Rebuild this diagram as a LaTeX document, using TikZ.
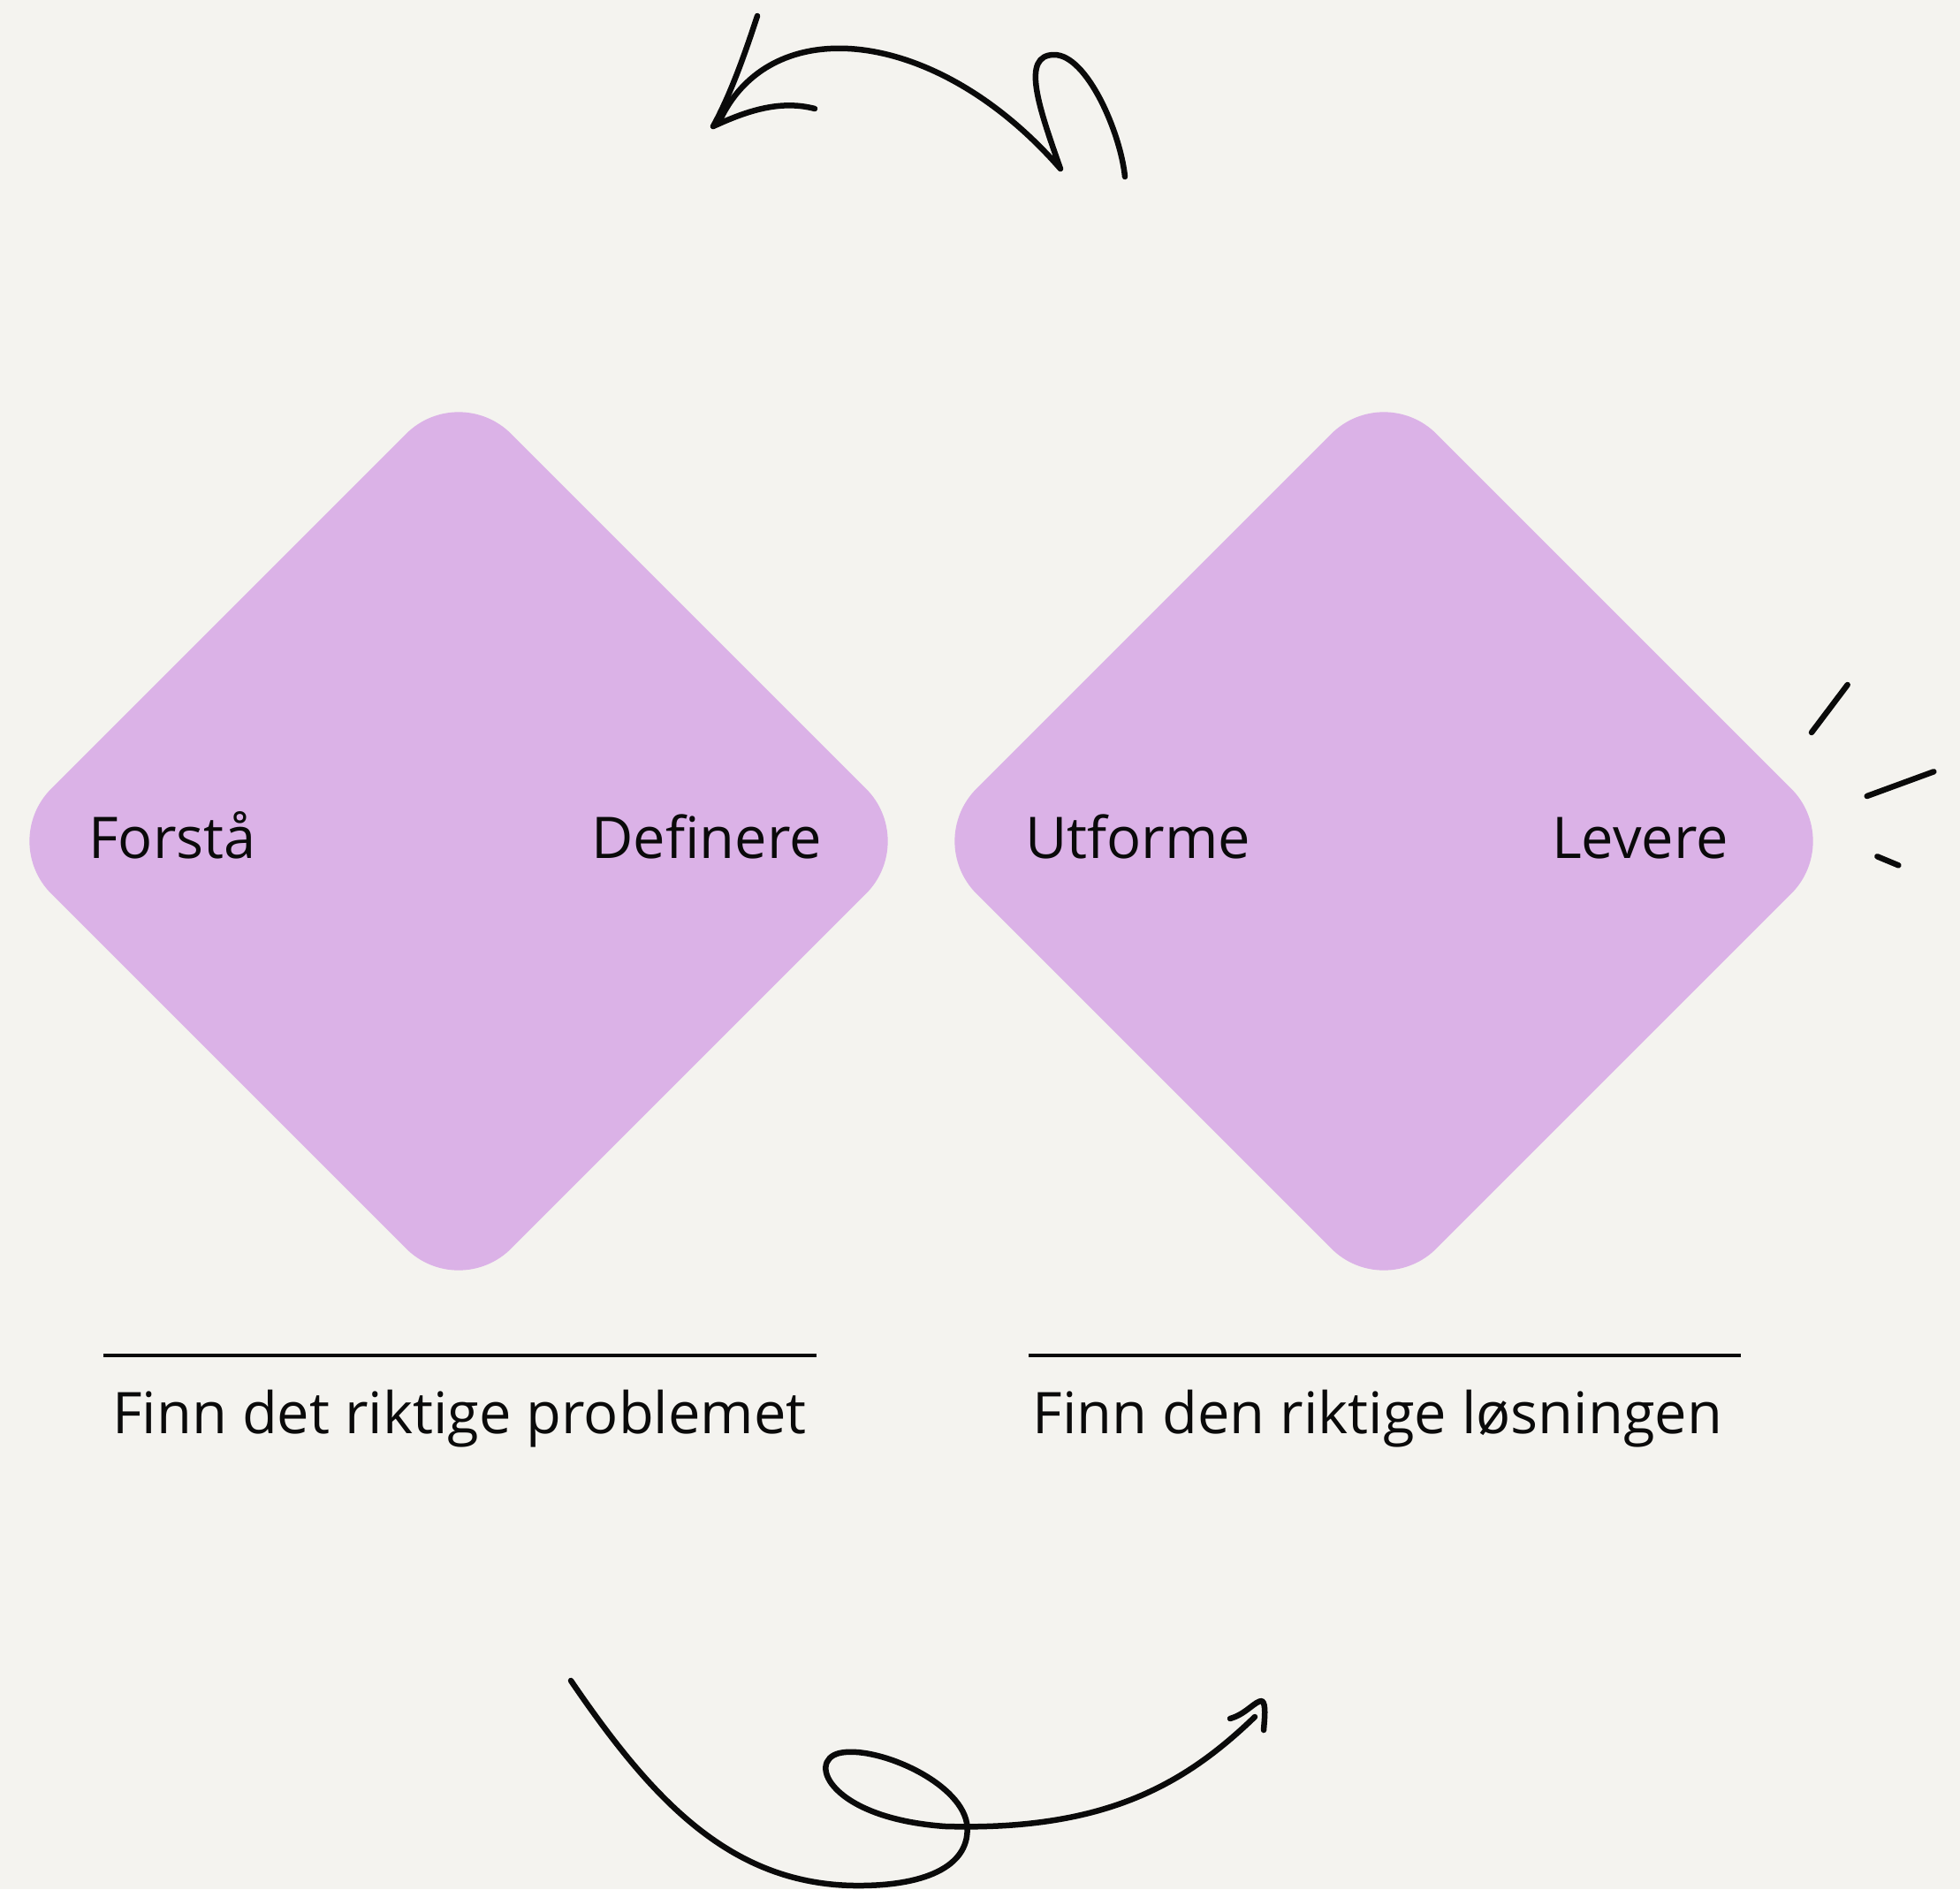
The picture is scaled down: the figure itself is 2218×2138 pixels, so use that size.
\documentclass[tikz,border=0pt]{standalone}
\usepackage{fontspec}
\setmainfont{Open Sans}
\definecolor{paper}{HTML}{F4F3EF}
\definecolor{lilac}{HTML}{DBB2E7}
\definecolor{ink}{HTML}{0A0A0A}
\begin{document}
\begin{tikzpicture}[x=1pt,y=-1pt,
  diamondshape/.style={fill=lilac, rounded corners=84pt},
  label/.style={inner sep=0pt, font=\fontsize{65}{78}\selectfont, text=ink},
  stroke/.style={draw=ink, line width=6.5pt, line cap=round, line join=round},
  rule/.style={draw=ink, line width=3.6pt}]
% canvas
\fill[paper] (0,0) rectangle (2218,2138);
\useasboundingbox (0,0) rectangle (2218,2138);

% the two diamonds
\fill[diamondshape, rotate around={45:(519,952)}] (151,584) rectangle (887,1320);
\fill[diamondshape, rotate around={45:(1566,952)}] (1198,584) rectangle (1934,1320);

% phase labels
\node[label, anchor=base west] (forsta) at (100,971) {Forstå};
\node[label, anchor=base east] (definere) at (930,971) {Definere};
\node[label, anchor=base west] (utforme) at (1160,971) {Utforme};
\node[label, anchor=base east] (levere) at (1956,971) {Levere};

% underlines and captions
\coordinate (l1a) at (117,1534);
\coordinate (l1b) at (924,1534);
\coordinate (l2a) at (1164,1534);
\coordinate (l2b) at (1970,1534);
\draw[rule] (l1a) -- (l1b);
\draw[rule] (l2a) -- (l2b);
\node[label, anchor=base] (problem) at (520,1622) {Finn det riktige problemet};
\node[label, anchor=base] (losning) at (1559,1622) {Finn den riktige løsningen};

% hand-drawn arrow at the top, pointing left
\coordinate (ttip) at (807,143);
\draw[stroke] (857,18) .. controls (840,70) and (825,110) .. (ttip);
\draw[stroke] (ttip) .. controls (840,128) and (880,112) .. (922,123);
\draw[stroke] (813,140) .. controls (870,10) and (1060,30) .. (1200,191)
  .. controls (1175,120) and (1155,62) .. (1193,62)
  .. controls (1230,62) and (1268,150) .. (1273,200);

% hand-drawn arrow at the bottom, looping and pointing right
\coordinate (btip) at (1428,1925);
\draw[stroke] (646,1902) .. controls (740,2040) and (830,2136) .. (976,2134)
  .. controls (1060,2133) and (1100,2105) .. (1094,2063)
  .. controls (1085,2015) and (990,1975) .. (950,1984)
  .. controls (912,1993) and (940,2058) .. (1070,2067)
  .. controls (1250,2072) and (1340,2020) .. (1420,1943);
\draw[stroke] (1392,1945) .. controls (1410,1940) and (1420,1925) .. (btip)
  .. controls (1433,1928) and (1431,1945) .. (1430,1958);

% sparkle marks beside the right diamond
\draw[stroke] (2090.7,775) -- (2050,829);
\draw[stroke] (2188.3,873.3) -- (2112.7,901);
\draw[stroke] (2124.3,969.3) -- (2148.3,979.3);
\end{tikzpicture}
\end{document}
